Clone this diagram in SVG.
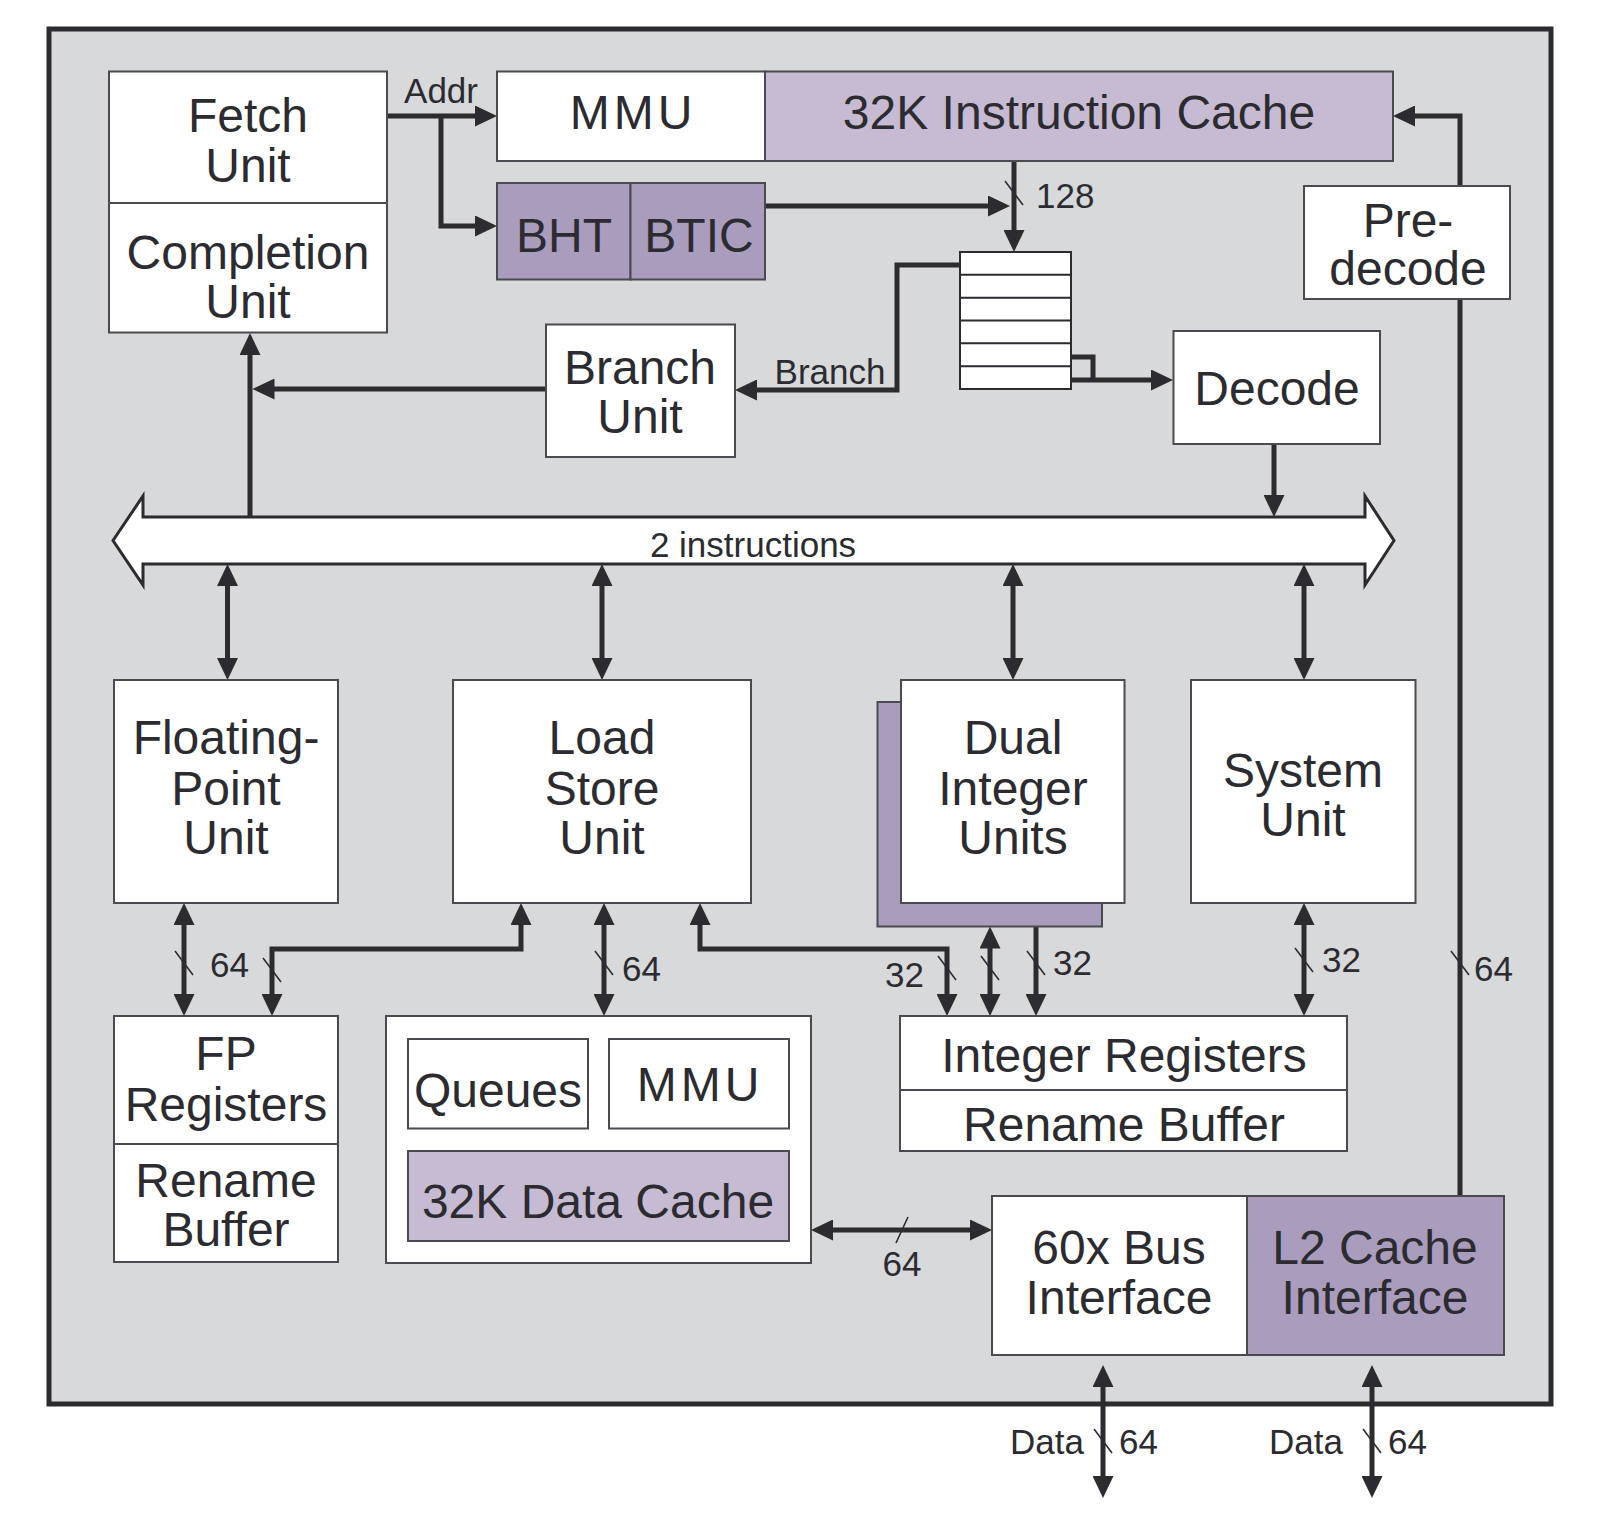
<svg xmlns="http://www.w3.org/2000/svg" width="1600" height="1514" viewBox="0 0 1600 1514">
<defs>
<style>
.box{fill:#ffffff;stroke:#4a4a50;stroke-width:2}
.lp{fill:#c6bbd3;stroke:#4a4a50;stroke-width:2}
.dp{fill:#a99cbd;stroke:#4a4a50;stroke-width:2}
.t{font-family:"Liberation Sans",Arial,sans-serif;font-size:48px;fill:#2b2b30;text-anchor:middle}
.s{font-family:"Liberation Sans",Arial,sans-serif;font-size:35px;fill:#2b2b30}
.c{fill:none;stroke:#2b2b30;stroke-width:5}
.a{marker-end:url(#ah)}
.b{marker-start:url(#ah);marker-end:url(#ah)}
.sl{stroke:#2b2b30;stroke-width:1.6;fill:none}
</style>
<marker id="ah" markerUnits="userSpaceOnUse" markerWidth="22" markerHeight="21" refX="16" refY="10.5" orient="auto-start-reverse">
<path d="M0,0 L22,10.5 L0,21 z" fill="#2b2b30"/>
</marker>
</defs>
<rect x="0" y="0" width="1600" height="1514" fill="#ffffff"/>
<rect id="frame" x="49" y="29" width="1502" height="1375" fill="#d8d9db" stroke="#2b2b30" stroke-width="5"/>

<g id="connectors">
<path class="c a" d="M387,116 H491"/>
<path class="c a" d="M441,116 V226 H491"/>
<path class="c a" d="M765,206 H1004"/>
<path class="c a" d="M1014,161 V246"/>
<path class="c a" d="M960,265 H897 V390 H741"/>
<path class="c" d="M1071,357 H1093 V380"/>
<path class="c a" d="M1071,380 H1167"/>
<path class="c" d="M1460,1196 V299"/>
<path class="c a" d="M1460,186 V116 H1399"/>
<path class="c a" d="M1274,444 V511"/>
<path class="c a" d="M250,517 V339"/>
<path class="c a" d="M546,389 H258.5"/>
<path class="c b" d="M227.5,570 V674"/>
<path class="c b" d="M602,570 V674"/>
<path class="c b" d="M1013,570 V674"/>
<path class="c b" d="M1304,570 V674"/>
<path class="c b" d="M184,909 V1010"/>
<path class="c b" d="M521,909 V949 H272 V1010"/>
<path class="c b" d="M604,909 V1010"/>
<path class="c b" d="M700,909 V949 H947 V1010"/>
<path class="c b" d="M990,932.5 V1010"/>
<path class="c b" d="M1036,909 V1010"/>
<path class="c b" d="M1304,909 V1010"/>
<path class="c b" d="M817,1230 H986"/>
<path class="c b" d="M1103,1371 V1492"/>
<path class="c b" d="M1372,1371 V1492"/>
<g id="slashes">
<path class="sl" d="M1005,181 L1023,205"/>
<path class="sl" d="M175,951 L193,975"/>
<path class="sl" d="M263,958 L281,982"/>
<path class="sl" d="M595,951 L613,975"/>
<path class="sl" d="M938,956 L956,980"/>
<path class="sl" d="M981,956 L999,980"/>
<path class="sl" d="M1027,951 L1045,975"/>
<path class="sl" d="M1295,948 L1313,972"/>
<path class="sl" d="M1451,951 L1469,975"/>
<path class="sl" d="M896,1243 L908,1217"/>
<path class="sl" d="M1094,1429 L1112,1453"/>
<path class="sl" d="M1363,1429 L1381,1453"/>
</g>
<text class="s" x="441" y="103" text-anchor="middle">Addr</text>
<text class="s" x="1036" y="208">128</text>
<text class="s" x="830" y="384" text-anchor="middle" font-size="34">Branch</text>
<text class="s" x="210" y="977">64</text>
<text class="s" x="622" y="981">64</text>
<text class="s" x="885" y="987">32</text>
<text class="s" x="1053" y="975">32</text>
<text class="s" x="1322" y="972">32</text>
<text class="s" x="1474" y="981">64</text>
<text class="s" x="902" y="1276" text-anchor="middle">64</text>
<text class="s" x="1084" y="1454" text-anchor="end">Data</text>
<text class="s" x="1119" y="1454">64</text>
<text class="s" x="1343" y="1454" text-anchor="end">Data</text>
<text class="s" x="1388" y="1454">64</text>
</g>

<g id="fetch-completion">
<rect class="box" x="109" y="71.5" width="278" height="261"/>
<line x1="109" y1="203" x2="387" y2="203" stroke="#4a4a50" stroke-width="2"/>
<text class="t" x="248" y="132">Fetch</text>
<text class="t" x="248" y="182">Unit</text>
<text class="t" x="248" y="269">Completion</text>
<text class="t" x="248" y="318">Unit</text>
</g>

<g id="mmu-icache">
<rect class="box" x="497" y="71.5" width="268" height="89.5"/>
<rect class="lp" x="765" y="71.5" width="628" height="89.5"/>
<text class="t" x="633" y="129" letter-spacing="4">MMU</text>
<text class="t" x="1079" y="129">32K Instruction Cache</text>
</g>

<g id="bht-btic">
<rect class="dp" x="497" y="183" width="133.5" height="96.5"/>
<rect class="dp" x="630.5" y="183" width="134.5" height="96.5"/>
<text class="t" x="564" y="252">BHT</text>
<text class="t" x="699" y="252">BTIC</text>
</g>

<g id="queue">
<rect x="960" y="252" width="111" height="137" fill="#ffffff" stroke="#2b2b30" stroke-width="2"/>
<path d="M960,274.8 H1071 M960,297.7 H1071 M960,320.5 H1071 M960,343.3 H1071 M960,366.2 H1071" stroke="#2b2b30" stroke-width="2"/>
</g>

<g id="predecode">
<rect class="box" x="1304" y="186" width="206" height="113"/>
<text class="t" x="1408" y="237">Pre-</text>
<text class="t" x="1408" y="285">decode</text>
</g>

<g id="branch-unit">
<rect class="box" x="546" y="324.5" width="189" height="132.5"/>
<text class="t" x="640" y="384">Branch</text>
<text class="t" x="640" y="433">Unit</text>
</g>

<g id="decode">
<rect class="box" x="1173.5" y="331" width="206.5" height="113"/>
<text class="t" x="1277" y="405">Decode</text>
</g>

<g id="bus">
<polygon points="113,540.5 143,496 143,517 1365,517 1365,496 1394,540.5 1365,585 1365,564 143,564 143,585" fill="#ffffff" stroke="#2b2b30" stroke-width="3" stroke-linejoin="miter"/>
<text class="s" x="753" y="557" text-anchor="middle" font-size="36">2 instructions</text>
</g>

<g id="fpu">
<rect class="box" x="114" y="680" width="224" height="223"/>
<text class="t" x="226" y="754">Floating-</text>
<text class="t" x="226" y="805">Point</text>
<text class="t" x="226" y="854">Unit</text>
</g>

<g id="lsu">
<rect class="box" x="453" y="680" width="298" height="223"/>
<text class="t" x="602" y="754">Load</text>
<text class="t" x="602" y="805">Store</text>
<text class="t" x="602" y="854">Unit</text>
</g>

<g id="dual-int">
<rect class="dp" x="877.5" y="702" width="224.5" height="224.5"/>
<rect class="box" x="901" y="680" width="223.5" height="223"/>
<text class="t" x="1013" y="754">Dual</text>
<text class="t" x="1013" y="805">Integer</text>
<text class="t" x="1013" y="854">Units</text>
</g>

<g id="system-unit">
<rect class="box" x="1191" y="680" width="224.5" height="223"/>
<text class="t" x="1303" y="787">System</text>
<text class="t" x="1303" y="836">Unit</text>
</g>

<g id="fp-regs">
<rect class="box" x="114" y="1016" width="224" height="246"/>
<line x1="114" y1="1144" x2="338" y2="1144" stroke="#4a4a50" stroke-width="2"/>
<text class="t" x="226" y="1070">FP</text>
<text class="t" x="226" y="1121">Registers</text>
<text class="t" x="226" y="1197">Rename</text>
<text class="t" x="226" y="1246">Buffer</text>
</g>

<g id="dcache-unit">
<rect class="box" x="386" y="1016" width="425" height="247"/>
<rect class="box" x="408" y="1039" width="180" height="89.5"/>
<rect class="box" x="609" y="1039" width="180" height="89.5"/>
<rect class="lp" x="408" y="1151" width="381" height="90"/>
<text class="t" x="498" y="1107">Queues</text>
<text class="t" x="700" y="1101" letter-spacing="4">MMU</text>
<text class="t" x="598" y="1218">32K Data Cache</text>
</g>

<g id="int-regs">
<rect class="box" x="900" y="1016" width="447" height="135"/>
<line x1="900" y1="1090" x2="1347" y2="1090" stroke="#4a4a50" stroke-width="2"/>
<text class="t" x="1124" y="1072">Integer Registers</text>
<text class="t" x="1124" y="1141">Rename Buffer</text>
</g>

<g id="bus-l2">
<rect class="box" x="992" y="1196" width="255" height="159"/>
<rect class="dp" x="1247" y="1196" width="257" height="159"/>
<text class="t" x="1119" y="1264">60x Bus</text>
<text class="t" x="1119" y="1314">Interface</text>
<text class="t" x="1375" y="1264">L2 Cache</text>
<text class="t" x="1375" y="1314">Interface</text>
</g>
</svg>
